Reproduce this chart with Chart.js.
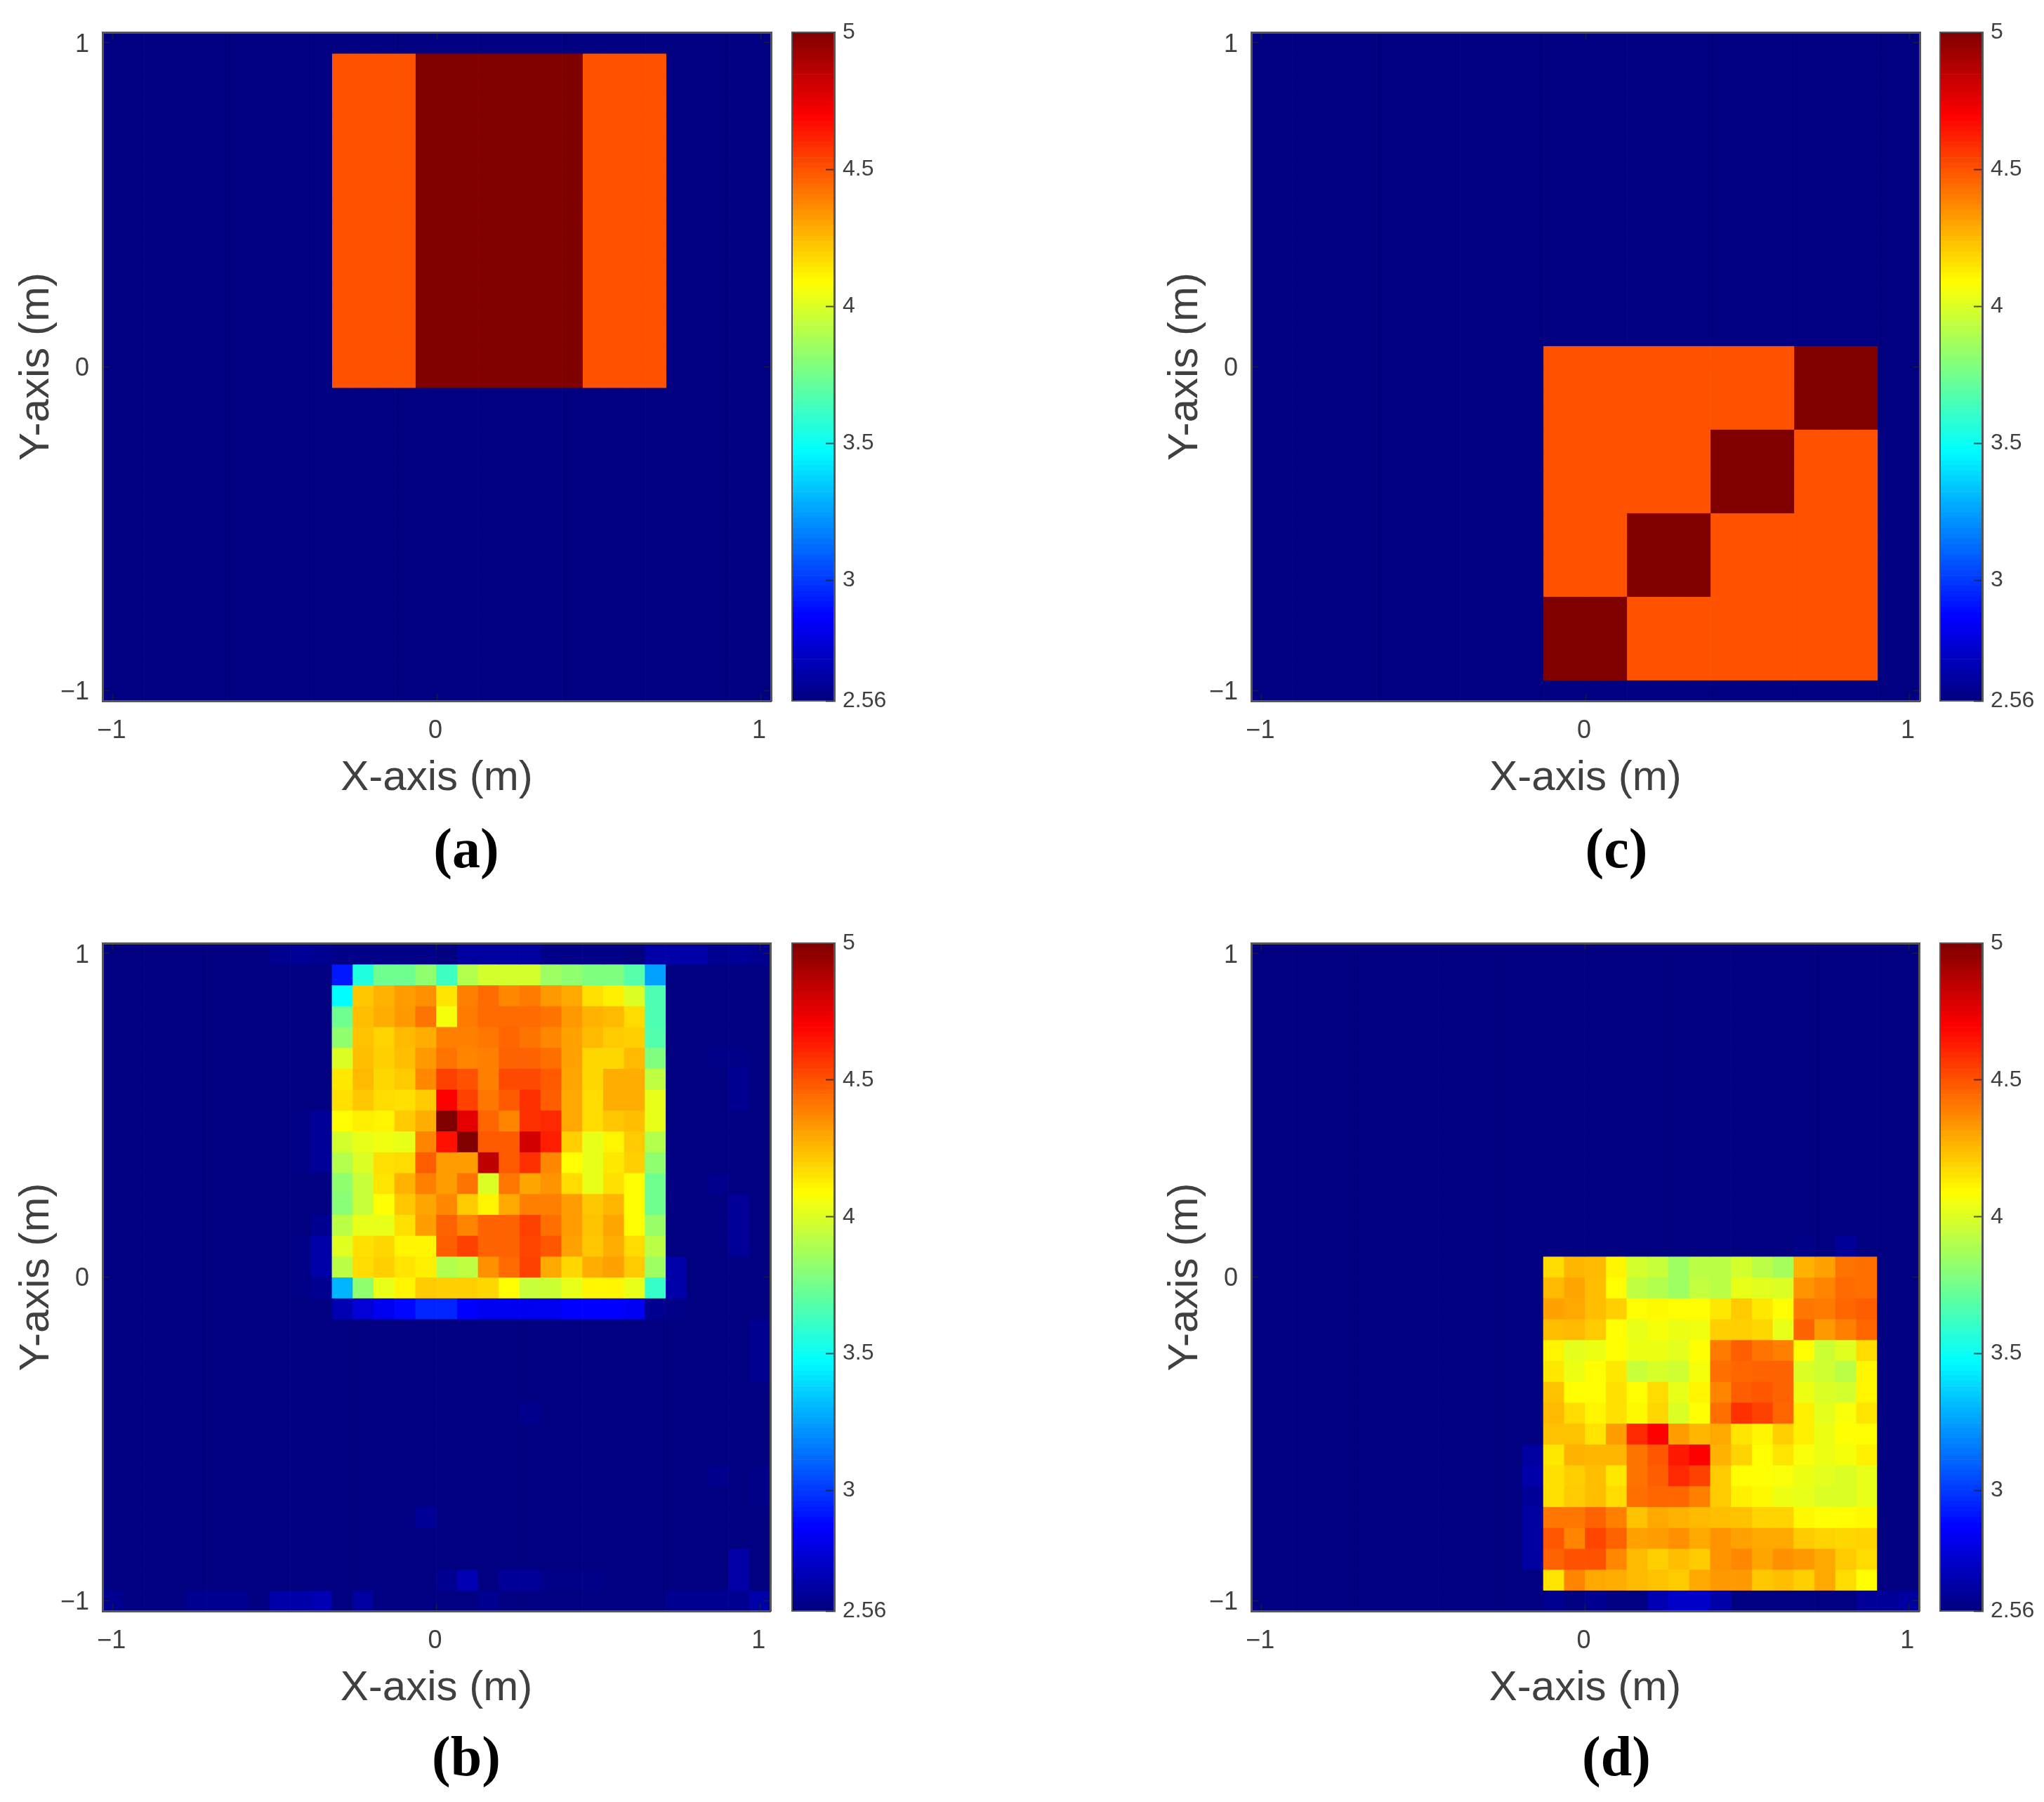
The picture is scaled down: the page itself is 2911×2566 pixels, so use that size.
<!DOCTYPE html>
<html>
<head>
<meta charset="utf-8">
<title>Heat maps</title>
<script src="https://cdn.jsdelivr.net/npm/chart.js@4"></script>
<style>
  html, body { margin: 0; background: #fff; }
  body { position: relative; width: 2911px; height: 2566px; overflow: hidden; }
  canvas { position: absolute; }
  .caption {
    position: absolute; width: 200px; text-align: center; line-height: 1;
    font: bold 80px "Liberation Serif", serif; color: #000;
  }
</style>
</head>
<body>
<script>
// Axis ticks
const axisTicks = [-1, 0, 1];
const colorbarTicks = [2.56, 3, 3.5, 4, 4.5, 5];
const colorMin = 2.56;
const colorMax = 5;
const gridSize = 32;

// Panel a: one row of the 16x16 block, the same all the way down
const aBlockRow = [4.5, 4.5, 4.5, 4.5, 5, 5, 5, 5, 5, 5, 5, 5, 4.5, 4.5, 4.5, 4.5];

// Panel c: 16x16 block
const cBlockRows = [
  [4.5, 4.5, 4.5, 4.5, 4.5, 4.5, 4.5, 4.5, 4.5, 4.5, 4.5, 4.5, 5, 5, 5, 5],
  [4.5, 4.5, 4.5, 4.5, 4.5, 4.5, 4.5, 4.5, 4.5, 4.5, 4.5, 4.5, 5, 5, 5, 5],
  [4.5, 4.5, 4.5, 4.5, 4.5, 4.5, 4.5, 4.5, 4.5, 4.5, 4.5, 4.5, 5, 5, 5, 5],
  [4.5, 4.5, 4.5, 4.5, 4.5, 4.5, 4.5, 4.5, 4.5, 4.5, 4.5, 4.5, 5, 5, 5, 5],
  [4.5, 4.5, 4.5, 4.5, 4.5, 4.5, 4.5, 4.5, 5, 5, 5, 5, 4.5, 4.5, 4.5, 4.5],
  [4.5, 4.5, 4.5, 4.5, 4.5, 4.5, 4.5, 4.5, 5, 5, 5, 5, 4.5, 4.5, 4.5, 4.5],
  [4.5, 4.5, 4.5, 4.5, 4.5, 4.5, 4.5, 4.5, 5, 5, 5, 5, 4.5, 4.5, 4.5, 4.5],
  [4.5, 4.5, 4.5, 4.5, 4.5, 4.5, 4.5, 4.5, 5, 5, 5, 5, 4.5, 4.5, 4.5, 4.5],
  [4.5, 4.5, 4.5, 4.5, 5, 5, 5, 5, 4.5, 4.5, 4.5, 4.5, 4.5, 4.5, 4.5, 4.5],
  [4.5, 4.5, 4.5, 4.5, 5, 5, 5, 5, 4.5, 4.5, 4.5, 4.5, 4.5, 4.5, 4.5, 4.5],
  [4.5, 4.5, 4.5, 4.5, 5, 5, 5, 5, 4.5, 4.5, 4.5, 4.5, 4.5, 4.5, 4.5, 4.5],
  [4.5, 4.5, 4.5, 4.5, 5, 5, 5, 5, 4.5, 4.5, 4.5, 4.5, 4.5, 4.5, 4.5, 4.5],
  [5, 5, 5, 5, 4.5, 4.5, 4.5, 4.5, 4.5, 4.5, 4.5, 4.5, 4.5, 4.5, 4.5, 4.5],
  [5, 5, 5, 5, 4.5, 4.5, 4.5, 4.5, 4.5, 4.5, 4.5, 4.5, 4.5, 4.5, 4.5, 4.5],
  [5, 5, 5, 5, 4.5, 4.5, 4.5, 4.5, 4.5, 4.5, 4.5, 4.5, 4.5, 4.5, 4.5, 4.5],
  [5, 5, 5, 5, 4.5, 4.5, 4.5, 4.5, 4.5, 4.5, 4.5, 4.5, 4.5, 4.5, 4.5, 4.5]
];

// Panel b: 16x16 block
const bBlockRows = [
  [2.92, 3.55, 3.74, 3.74, 3.82, 3.62, 3.90, 3.98, 3.98, 3.98, 3.85, 3.82, 3.78, 3.78, 3.68, 3.25],
  [3.47, 4.22, 4.27, 4.32, 4.35, 4.15, 4.39, 4.44, 4.37, 4.40, 4.33, 4.29, 4.16, 4.12, 4.00, 3.66],
  [3.74, 4.24, 4.28, 4.33, 4.42, 4.06, 4.40, 4.44, 4.44, 4.44, 4.42, 4.33, 4.27, 4.25, 4.17, 3.66],
  [3.82, 4.23, 4.19, 4.25, 4.28, 4.39, 4.39, 4.41, 4.45, 4.42, 4.37, 4.31, 4.25, 4.21, 4.20, 3.67],
  [4.00, 4.24, 4.20, 4.24, 4.33, 4.42, 4.38, 4.39, 4.46, 4.46, 4.43, 4.31, 4.18, 4.18, 4.25, 3.78],
  [4.14, 4.25, 4.18, 4.21, 4.37, 4.54, 4.50, 4.39, 4.52, 4.52, 4.48, 4.30, 4.18, 4.28, 4.28, 3.93],
  [4.16, 4.22, 4.17, 4.16, 4.21, 4.70, 4.54, 4.41, 4.48, 4.58, 4.47, 4.29, 4.17, 4.28, 4.28, 4.03],
  [4.09, 4.12, 4.11, 4.21, 4.28, 5.00, 4.76, 4.45, 4.38, 4.58, 4.60, 4.29, 4.17, 4.22, 4.24, 4.03],
  [3.98, 4.03, 4.05, 4.03, 4.38, 4.66, 5.00, 4.48, 4.48, 4.80, 4.62, 4.20, 4.03, 4.11, 4.21, 3.90],
  [3.90, 4.00, 4.16, 4.17, 4.47, 4.32, 4.32, 4.85, 4.48, 4.58, 4.37, 4.09, 4.03, 4.14, 4.20, 3.82],
  [3.82, 3.95, 4.15, 4.27, 4.39, 4.32, 4.42, 4.00, 4.41, 4.30, 4.34, 4.17, 4.03, 4.16, 4.09, 3.74],
  [3.80, 3.95, 4.08, 4.22, 4.30, 4.37, 4.21, 4.11, 4.29, 4.39, 4.39, 4.32, 4.22, 4.26, 4.09, 3.74],
  [3.92, 4.03, 4.03, 4.16, 4.32, 4.46, 4.38, 4.46, 4.46, 4.54, 4.43, 4.32, 4.23, 4.30, 4.09, 3.84],
  [4.01, 4.16, 4.18, 4.11, 4.11, 4.47, 4.54, 4.46, 4.46, 4.53, 4.49, 4.31, 4.22, 4.28, 4.17, 3.92],
  [3.92, 4.17, 4.20, 4.15, 4.12, 3.90, 3.93, 4.35, 4.44, 4.54, 4.29, 4.18, 4.28, 4.31, 4.21, 3.85],
  [3.30, 3.82, 4.03, 4.11, 4.21, 4.20, 4.20, 4.18, 4.09, 3.95, 3.96, 4.03, 4.11, 4.11, 4.03, 3.60]
];
// Row just under the block in panel b
const bBelowRow = [2.68, 2.77, 2.83, 2.88, 2.95, 2.95, 2.86, 2.83, 2.83, 2.83, 2.83, 2.86, 2.86, 2.86, 2.84, 2.60];
// Faint cells outside the block: [column, row, value]
const bFaintCells = [
  [8, 0, 2.6], [9, 0, 2.62], [10, 0, 2.6], [11, 0, 2.58], [12, 0, 2.58], [13, 0, 2.58], [14, 0, 2.58], [15, 0, 2.58],
  [17, 0, 2.64], [18, 0, 2.64], [19, 0, 2.64], [20, 0, 2.64], [21, 0, 2.58], [22, 0, 2.58], [23, 0, 2.58], [24, 0, 2.58],
  [26, 0, 2.66], [27, 0, 2.66], [28, 0, 2.66], [29, 0, 2.6], [30, 0, 2.62], [31, 0, 2.6],
  [10, 8, 2.62], [10, 9, 2.62], [10, 10, 2.62], [9, 8, 2.58], [9, 9, 2.58], [9, 10, 2.58],
  [10, 13, 2.6], [10, 14, 2.66], [10, 15, 2.66], [10, 16, 2.6], [9, 14, 2.58], [9, 15, 2.58], [9, 16, 2.58],
  [27, 15, 2.66], [27, 16, 2.66], [27, 17, 2.58], [29, 5, 2.58], [30, 5, 2.58], [30, 6, 2.6], [30, 7, 2.6], [29, 11, 2.59],
  [30, 12, 2.62], [30, 13, 2.62], [30, 14, 2.62],
  [20, 22, 2.59], [15, 27, 2.62], [16, 30, 2.6], [17, 30, 2.68], [19, 30, 2.62], [20, 30, 2.62], [21, 30, 2.58], [22, 30, 2.58], [23, 30, 2.58],
  [30, 29, 2.65], [30, 30, 2.65], [29, 25, 2.59], [31, 18, 2.6], [31, 19, 2.6], [31, 20, 2.6], [31, 25, 2.58], [31, 26, 2.58],
  [0, 31, 2.6], [4, 31, 2.6], [5, 31, 2.6], [6, 31, 2.6], [8, 31, 2.66], [9, 31, 2.66], [10, 31, 2.68], [12, 31, 2.64],
  [18, 31, 2.6], [27, 31, 2.6], [28, 31, 2.6], [29, 31, 2.6], [30, 31, 2.6], [31, 31, 2.66]
];

// Panel d: 16x16 block
const dBlockRows = [
  [4.17, 4.26, 4.25, 4.11, 3.98, 3.95, 3.85, 3.92, 3.92, 3.98, 3.92, 3.87, 4.27, 4.31, 4.42, 4.43],
  [4.25, 4.30, 4.24, 4.09, 3.93, 3.90, 3.85, 3.94, 3.92, 4.03, 4.01, 4.00, 4.34, 4.38, 4.44, 4.43],
  [4.31, 4.29, 4.24, 4.20, 4.09, 4.10, 4.09, 4.09, 4.14, 4.21, 4.14, 4.09, 4.41, 4.40, 4.45, 4.47],
  [4.24, 4.25, 4.21, 4.09, 4.03, 4.06, 4.04, 4.05, 4.20, 4.20, 4.18, 4.03, 4.46, 4.33, 4.39, 4.45],
  [4.11, 4.02, 4.04, 4.09, 4.04, 4.04, 4.02, 4.08, 4.40, 4.47, 4.42, 4.39, 4.09, 3.96, 4.01, 4.17],
  [4.14, 4.04, 4.09, 4.14, 3.95, 3.99, 3.97, 4.06, 4.43, 4.45, 4.46, 4.46, 4.00, 3.97, 3.92, 4.11],
  [4.23, 4.09, 4.09, 4.16, 4.09, 4.17, 4.03, 4.11, 4.38, 4.47, 4.49, 4.46, 4.04, 4.00, 3.98, 4.11],
  [4.25, 4.17, 4.11, 4.16, 4.10, 4.18, 4.00, 4.08, 4.43, 4.58, 4.54, 4.45, 4.12, 4.02, 4.07, 4.15],
  [4.23, 4.23, 4.15, 4.32, 4.60, 4.70, 4.32, 4.26, 4.29, 4.15, 4.11, 4.20, 4.12, 4.04, 4.08, 4.09],
  [4.14, 4.27, 4.26, 4.26, 4.42, 4.49, 4.64, 4.70, 4.27, 4.19, 4.09, 4.15, 4.07, 4.04, 4.06, 4.12],
  [4.16, 4.20, 4.24, 4.14, 4.42, 4.47, 4.60, 4.54, 4.21, 4.09, 4.08, 4.07, 4.04, 4.02, 4.00, 4.03],
  [4.16, 4.21, 4.24, 4.17, 4.43, 4.45, 4.45, 4.39, 4.21, 4.12, 4.10, 4.04, 4.03, 4.00, 4.00, 4.03],
  [4.41, 4.41, 4.46, 4.39, 4.23, 4.29, 4.27, 4.25, 4.24, 4.23, 4.19, 4.19, 4.10, 4.08, 4.09, 4.10],
  [4.49, 4.38, 4.53, 4.46, 4.31, 4.32, 4.35, 4.29, 4.34, 4.31, 4.29, 4.29, 4.21, 4.19, 4.18, 4.19],
  [4.46, 4.50, 4.50, 4.37, 4.25, 4.20, 4.24, 4.21, 4.34, 4.37, 4.30, 4.35, 4.33, 4.29, 4.21, 4.17],
  [4.15, 4.38, 4.29, 4.28, 4.25, 4.23, 4.21, 4.29, 4.33, 4.33, 4.22, 4.24, 4.20, 4.29, 4.17, 4.09]
];
const dFaintCells = [
  [13, 24, 2.64], [13, 25, 2.66], [13, 26, 2.62], [13, 27, 2.64], [13, 28, 2.64], [13, 29, 2.64],
  [14, 31, 2.6], [16, 31, 2.6], [19, 31, 2.68], [20, 31, 2.74], [21, 31, 2.74], [22, 31, 2.66],
  [26, 14, 2.58], [28, 14, 2.62], [29, 31, 2.62], [30, 31, 2.62], [31, 31, 2.64]
];

const captions = ['(a)', '(b)', '(c)', '(d)'];
const xTitle = 'X-axis (m)';
const yTitle = 'Y-axis (m)';

const textColor = '#404040';
const edgeColor = '#555555';
const tickColor = 'rgba(30, 30, 50, 0.75)';

// MATLAB jet
function jet(value) {
  const t = Math.min(1, Math.max(0, (value - colorMin) / (colorMax - colorMin)));
  const part = center => Math.round(255 * Math.min(1, Math.max(0, 1.5 - Math.abs(4 * t - center))));
  return `rgb(${part(3)}, ${part(2)}, ${part(1)})`;
}

// Empty grid with a block placed in it
function buildGrid(blockRows, blockCol, blockRow, faintCells) {
  const grid = [];
  for (let r = 0; r < gridSize; r++) grid.push(new Array(gridSize).fill(colorMin));
  blockRows.forEach((row, r) => row.forEach((v, c) => { grid[blockRow + r][blockCol + c] = v; }));
  (faintCells || []).forEach(cell => { grid[cell[1]][cell[0]] = cell[2]; });
  return grid;
}

const aGrid = buildGrid(new Array(16).fill(aBlockRow), 11, 1);
const cGrid = buildGrid(cBlockRows, 14, 15);
const bGrid = buildGrid(bBlockRows.concat([bBelowRow]), 11, 1, bFaintCells);
const dGrid = buildGrid(dBlockRows, 14, 15, dFaintCells);

// Pixel centres run from -1 to 1, so the axes reach half a cell further
const step = 2 / (gridSize - 1);
const axisEnd = 1 + step / 2;

function heatDatasets(grid) {
  return grid.map((row, r) => {
    const yMid = 1 - r * step;
    // a touch taller than the cell so no seams show between rows
    return {
      data: row.map((v, c) => ({ x: -1 + c * step, y: [yMid - step * 0.51, yMid + step * 0.51] })),
      backgroundColor: row.map(jet),
      borderWidth: 0,
      barPercentage: 1,
      categoryPercentage: 1,
      grouped: false
    };
  });
}

function fixedSize(prop, size) {
  return scale => { scale[prop] = size; };
}

function boxSide(position, min, max, size) {
  const horizontal = position === 'top';
  return {
    type: 'linear', position: position, min: min, max: max, offset: false,
    afterFit: fixedSize(horizontal ? 'height' : 'width', size),
    afterBuildTicks: scale => { scale.ticks = axisTicks.map(v => ({ value: v })); },
    ticks: { display: false },
    grid: { drawOnChartArea: false, tickLength: -10, tickColor: tickColor, tickWidth: 2, z: 1, offset: false },
    border: { color: edgeColor, width: 3, z: 1 }
  };
}

function mainAxis(position, size, titleText, titlePadding, labelPadding, labelOffset) {
  const horizontal = position === 'bottom';
  return {
    type: 'linear', position: position, min: -axisEnd, max: axisEnd, offset: false,
    afterFit: fixedSize(horizontal ? 'height' : 'width', size),
    afterBuildTicks: scale => { scale.ticks = axisTicks.map(v => ({ value: v })); },
    title: {
      display: true, text: titleText, color: textColor, padding: titlePadding,
      font: { family: '"Liberation Sans", Arial, sans-serif', size: 60 }
    },
    ticks: {
      color: textColor, padding: labelPadding, labelOffset: labelOffset, autoSkip: false, maxRotation: 0,
      font: { family: '"Liberation Sans", Arial, sans-serif', size: 36 },
      callback: v => (v < 0 ? '\u2212' + Math.abs(v) : String(v))
    },
    grid: { drawOnChartArea: false, tickLength: -10, tickColor: tickColor, tickWidth: 2, z: 1, offset: false },
    border: { color: edgeColor, width: 3, z: 1 }
  };
}

function addCanvas(left, top, width, height) {
  const canvas = document.createElement('canvas');
  canvas.width = width;
  canvas.height = height;
  canvas.style.left = left + 'px';
  canvas.style.top = top + 'px';
  canvas.style.width = width + 'px';
  canvas.style.height = height + 'px';
  document.body.appendChild(canvas);
  return canvas.getContext('2d');
}

function createHeatmap(grid, plotLeft, plotTop, plotSize) {
  const axisWidth = 146;
  // tick padding counts towards the layout, so leave room for it on the top and right
  const topGap = 56;
  const rightGap = 40;
  const bottomSpace = 146;
  const ctx = addCanvas(plotLeft - axisWidth, plotTop - topGap, axisWidth + plotSize + rightGap, topGap + plotSize + bottomSpace);
  return new Chart(ctx, {
    type: 'bar',
    data: { datasets: heatDatasets(grid) },
    options: {
      responsive: false,
      animation: false,
      devicePixelRatio: 1,
      layout: { autoPadding: false, padding: { top: topGap, right: rightGap, bottom: 0, left: 0 } },
      plugins: { legend: { display: false }, tooltip: { enabled: false } },
      scales: {
        x: mainAxis('bottom', bottomSpace, xTitle, 0, 31, -2),
        y: mainAxis('left', axisWidth, yTitle, { top: 16, bottom: 0 }, 29, 3),
        x2: boxSide('top', -axisEnd, axisEnd, 0),
        y2: boxSide('right', -axisEnd, axisEnd, 0)
      }
    }
  });
}

function createColorbar(barLeft, plotTop, plotSize) {
  const barWidth = 61;
  const labelSpace = 130;
  const topGap = 46;
  const ctx = addCanvas(barLeft, plotTop - topGap, barWidth + labelSpace, plotSize + 2 * topGap);
  // One thin floating bar for each colormap level
  const levels = 128;
  const datasets = [];
  for (let i = 0; i < levels; i++) {
    const lo = colorMin + (colorMax - colorMin) * i / levels;
    const hi = colorMin + (colorMax - colorMin) * (i + 1) / levels;
    datasets.push({
      data: [[lo, hi]],
      backgroundColor: jet((lo + hi) / 2),
      borderWidth: 0, barPercentage: 1, categoryPercentage: 1, grouped: false
    });
  }
  return new Chart(ctx, {
    type: 'bar',
    data: { labels: [''], datasets: datasets },
    options: {
      responsive: false,
      animation: false,
      devicePixelRatio: 1,
      layout: { autoPadding: false, padding: { top: topGap, bottom: topGap, left: 0, right: 0 } },
      plugins: { legend: { display: false }, tooltip: { enabled: false } },
      scales: {
        x: {
          afterFit: fixedSize('height', 0),
          ticks: { display: false },
          grid: { display: false },
          border: { color: edgeColor, width: 2, z: 1 }
        },
        y: {
          type: 'linear', position: 'right', min: colorMin, max: colorMax,
          afterFit: fixedSize('width', labelSpace),
          afterBuildTicks: scale => { scale.ticks = colorbarTicks.map(v => ({ value: v })); },
          ticks: {
            color: textColor, padding: 24, autoSkip: false,
            font: { family: '"Liberation Sans", Arial, sans-serif', size: 32 },
            callback: v => String(v)
          },
          grid: { drawOnChartArea: false, tickLength: -12, tickColor: tickColor, tickWidth: 2, z: 1 },
          border: { color: edgeColor, width: 3, z: 1 }
        },
        yLeft: {
          type: 'linear', position: 'left', min: colorMin, max: colorMax,
          afterFit: fixedSize('width', 0),
          ticks: { display: false },
          grid: { display: false },
          border: { color: edgeColor, width: 3, z: 1 }
        },
        xTop: {
          type: 'category', position: 'top', axis: 'x',
          afterFit: fixedSize('height', 0),
          ticks: { display: false },
          grid: { display: false },
          border: { color: edgeColor, width: 2, z: 1 }
        }
      }
    }
  });
}

function addCaption(text, centerX, top) {
  const el = document.createElement('div');
  el.className = 'caption';
  el.textContent = text;
  el.style.left = (centerX - 100) + 'px';
  el.style.top = top + 'px';
  document.body.appendChild(el);
}

createHeatmap(aGrid, 146, 46, 952);
createColorbar(1127, 46, 952);
createHeatmap(bGrid, 146, 1343, 951);
createColorbar(1127, 1343, 951);
createHeatmap(cGrid, 1782, 46, 952);
createColorbar(2762, 46, 952);
createHeatmap(dGrid, 1782, 1343, 951);
createColorbar(2762, 1343, 951);

addCaption(captions[0], 664, 1163);
addCaption(captions[1], 664, 2456);
addCaption(captions[2], 2302, 1163);
addCaption(captions[3], 2302, 2456);
</script>
</body>
</html>
